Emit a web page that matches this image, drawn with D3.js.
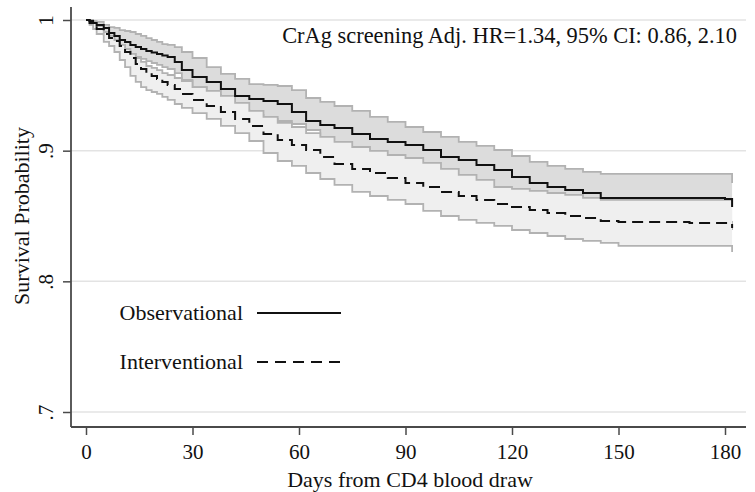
<!DOCTYPE html>
<html>
<head>
<meta charset="utf-8">
<script src="https://cdn.jsdelivr.net/npm/d3@7"></script>
<style>
  body { margin: 0; background: #fff; }
  text { font-family: "Liberation Serif", "Times New Roman", serif; fill: #111; }
</style>
</head>
<body>
<div id="chart"></div>
<script>
// survival curves (step after each day)
const days = [0, 1, 2, 3, 5, 6.5, 8, 9.5, 11, 12.5, 14, 15.5, 17, 18.5, 20, 21.5, 23, 25, 27, 30, 34, 38, 42, 46,
  50, 54, 58, 62, 66, 70, 75, 80, 85, 90, 95, 100, 105, 110, 115, 120, 125, 130, 135, 140, 145, 150, 160, 170,
  180, 182];

const obsEst = [1, .9992, .9977, .9962, .9939, .9901, .9878, .9847, .9832, .9809, .9793, .9778, .9763, .9751,
  .9740, .9728, .9717, .9679, .9617, .9564, .9526, .9472, .9419, .9396, .9380, .9357, .9296, .9227, .9197,
  .9174, .9128, .9090, .9067, .9044, .9005, .8952, .8929, .8891, .8852, .8799, .8753, .8722, .8699, .8676,
  .8638, .8638, .8638, .8638, .8630, .8569];
const obsHigh = [1, 1, .9992, .9985, .9962, .9946, .9939, .9923, .9916, .9908, .9893, .9878, .9862, .9847,
  .9832, .9816, .9809, .9793, .9755, .9709, .9640, .9587, .9549, .9510, .9503, .9495, .9464, .9403, .9373,
  .9342, .9304, .9258, .9220, .9181, .9143, .9105, .9067, .9036, .9005, .8959, .8914, .8883, .8860, .8837,
  .8822, .8822, .8822, .8822, .8822, .8753];
const obsLow = [1, .9985, .9962, .9939, .9885, .9855, .9832, .9793, .9763, .9740, .9717, .9702, .9686, .9671,
  .9656, .9640, .9625, .9594, .9541, .9487, .9426, .9357, .9311, .9273, .9243, .9227, .9204, .9158, .9067,
  .9021, .8967, .8929, .8898, .8868, .8829, .8776, .8745, .8707, .8669, .8623, .8577, .8546, .8523, .8500,
  .8462, .8462, .8462, .8462, .8455, .8393];

const intEst = [1, .9977, .9954, .9931, .9893, .9862, .9839, .9801, .9755, .9709, .9663, .9625, .9594, .9572,
  .9549, .9526, .9503, .9472, .9434, .9388, .9342, .9296, .9243, .9189, .9128, .9082, .9044, .9005, .8952,
  .8898, .8860, .8829, .8791, .8753, .8722, .8684, .8653, .8623, .8592, .8569, .8546, .8523, .8500, .8485,
  .8462, .8455, .8455, .8447, .8447, .8409];
const intHigh = [1, .9992, .9977, .9954, .9908, .9878, .9847, .9809, .9778, .9740, .9709, .9679, .9648, .9633,
  .9617, .9594, .9579, .9556, .9533, .9487, .9457, .9419, .9365, .9304, .9258, .9212, .9181, .9135, .9105,
  .9067, .9028, .8998, .8967, .8944, .8906, .8860, .8814, .8776, .8722, .8707, .8692, .8676, .8661, .8638,
  .8623, .8623, .8623, .8623, .8623, .8623];
const intLow = [1, .9962, .9931, .9893, .9832, .9801, .9755, .9694, .9640, .9572, .9526, .9487, .9464, .9449,
  .9434, .9411, .9388, .9357, .9327, .9288, .9243, .9189, .9135, .9074, .8982, .8921, .8883, .8829, .8783,
  .8738, .8684, .8653, .8623, .8592, .8539, .8500, .8470, .8447, .8424, .8393, .8370, .8347, .8324, .8309,
  .8294, .8271, .8271, .8271, .8271, .8225];

const xTicks = [0, 30, 60, 90, 120, 150, 180];
const yTicks = [1, 0.9, 0.8, 0.7];
const yTickLabels = ["1", ".9", ".8", ".7"];
const seriesNames = ["Observational", "Interventional"];
const note = "CrAg screening Adj. HR=1.34, 95% CI: 0.86, 2.10";

const width = 755, height = 492;
const plotLeft = 71, plotRight = 746, plotTop = 7, plotBottom = 427;

const svg = d3.select("#chart").append("svg")
  .attr("width", width)
  .attr("height", height);

const x = d3.scaleLinear().domain([0, 180]).range([86, 725]);
const y = d3.scaleLinear().domain([0.7, 1]).range([412, 20]);

// gridlines
svg.append("g").selectAll("line")
  .data(yTicks)
  .join("line")
  .attr("x1", plotLeft).attr("x2", plotRight)
  .attr("y1", d => y(d)).attr("y2", d => y(d))
  .attr("stroke", "#e3e3e3")
  .attr("stroke-width", 1.5);

const rows = days.map((d, i) => ({
  d, oe: obsEst[i], oh: obsHigh[i], ol: obsLow[i], ie: intEst[i], ih: intHigh[i], il: intLow[i]
}));

function band(lo, hi, fill) {
  const area = d3.area().curve(d3.curveStepAfter)
    .x(r => x(r.d)).y0(r => y(r[lo])).y1(r => y(r[hi]));
  svg.append("path").datum(rows).attr("d", area).attr("fill", fill);
  [lo, hi].forEach(k => {
    const ln = d3.line().curve(d3.curveStepAfter).x(r => x(r.d)).y(r => y(r[k]));
    svg.append("path").datum(rows).attr("d", ln)
      .attr("fill", "none").attr("stroke", "#b2b2b2").attr("stroke-width", 1.8);
  });
}
band("ol", "oh", "#dcdcdc");
band("il", "ih", "#efefef");

const estLine = k => d3.line().curve(d3.curveStepAfter).x(r => x(r.d)).y(r => y(r[k]));
svg.append("path").datum(rows).attr("d", estLine("oe"))
  .attr("fill", "none").attr("stroke", "#111").attr("stroke-width", 2);
svg.append("path").datum(rows).attr("d", estLine("ie"))
  .attr("fill", "none").attr("stroke", "#111").attr("stroke-width", 2)
  .attr("stroke-dasharray", "11,6");

// axes
const axisColor = "#4a4a4a";
const xAxis = svg.append("g")
  .attr("transform", `translate(0,${plotBottom})`)
  .call(d3.axisBottom(x).tickValues(xTicks).tickSize(8).tickPadding(6).tickFormat(d3.format("d")));
xAxis.select(".domain").remove();
xAxis.selectAll("line").attr("stroke", axisColor).attr("stroke-width", 1.5);
xAxis.selectAll("text").attr("font-size", 21).attr("font-family", "Liberation Serif").attr("fill", "#111")
  .attr("dy", 0).attr("y", 32);

const yAxis = svg.append("g")
  .attr("transform", `translate(${plotLeft},0)`)
  .call(d3.axisLeft(y).tickValues(yTicks).tickSize(8).tickFormat((d, i) => yTickLabels[i]));
yAxis.select(".domain").remove();
yAxis.selectAll("line").attr("stroke", axisColor).attr("stroke-width", 1.5);
yAxis.selectAll("text")
  .attr("font-size", 21).attr("font-family", "Liberation Serif").attr("fill", "#111")
  .attr("transform", "rotate(-90)")
  .attr("x", 0).attr("y", -18).attr("dy", 0)
  .attr("text-anchor", "middle");

svg.append("line").attr("x1", plotLeft).attr("x2", plotLeft).attr("y1", plotTop).attr("y2", plotBottom)
  .attr("stroke", axisColor).attr("stroke-width", 1.8);
svg.append("line").attr("x1", plotLeft).attr("x2", plotRight).attr("y1", plotBottom).attr("y2", plotBottom)
  .attr("stroke", axisColor).attr("stroke-width", 1.8);

// titles
svg.append("text")
  .attr("x", 410).attr("y", 487)
  .attr("text-anchor", "middle").attr("font-size", 22)
  .text("Days from CD4 blood draw");

svg.append("text")
  .attr("transform", "translate(29,216) rotate(-90)")
  .attr("text-anchor", "middle").attr("font-size", 22)
  .text("Survival Probability");

svg.append("text")
  .attr("x", 737).attr("y", 43)
  .attr("text-anchor", "end").attr("font-size", 22.4)
  .text(note);

// legend
const legend = svg.append("g");
seriesNames.forEach((name, i) => {
  const ly = 313 + i * 49;
  legend.append("text")
    .attr("x", 243).attr("y", ly + 7)
    .attr("text-anchor", "end").attr("font-size", 22)
    .text(name);
  legend.append("line")
    .attr("x1", 257).attr("x2", 341).attr("y1", ly).attr("y2", ly)
    .attr("stroke", "#111").attr("stroke-width", 2)
    .attr("stroke-dasharray", i === 0 ? null : "11,7");
});
</script>
</body>
</html>
